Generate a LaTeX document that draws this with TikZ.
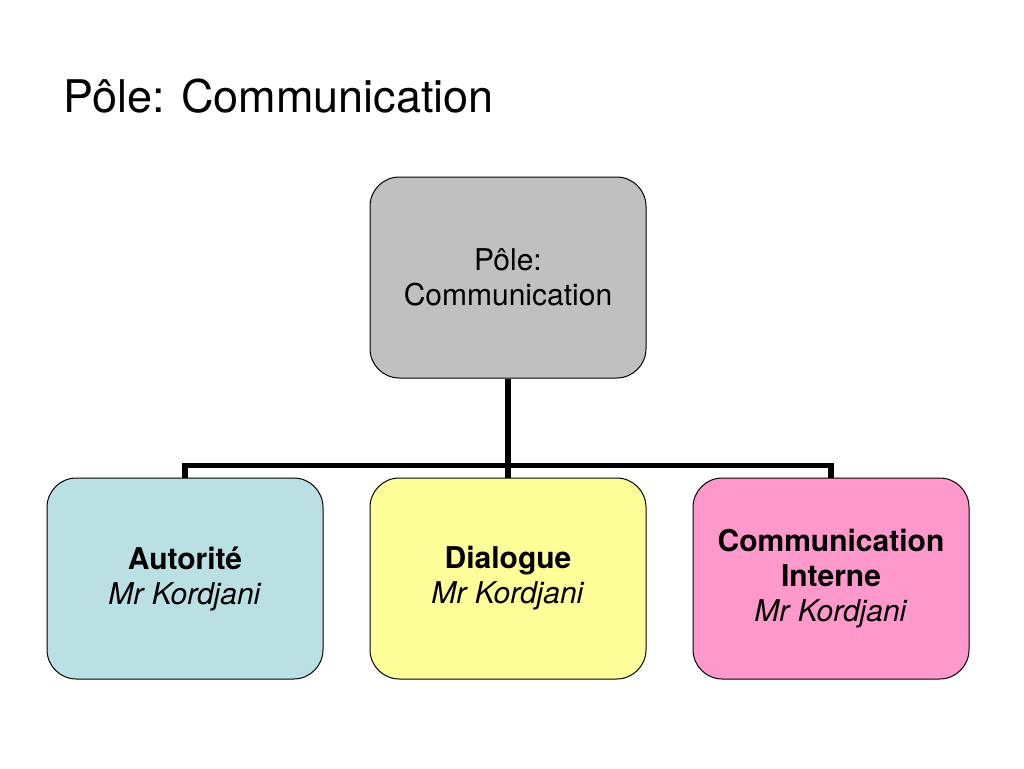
\documentclass[tikz,border=0pt]{standalone}
\usepackage{fontspec}
\setmainfont{TeX Gyre Heros}
\usetikzlibrary{positioning}
\definecolor{polegray}{RGB}{192,192,192}
\definecolor{autblue}{RGB}{187,224,227}
\definecolor{dialyellow}{RGB}{255,255,153}
\definecolor{compink}{RGB}{255,153,204}
\tikzset{  pole/.style={draw,line width=0.75pt,rounded corners=22pt,minimum width=207pt,minimum height=150.75pt,inner sep=0pt,align=center,font=\fontsize{22.5}{26.25}\selectfont} }
\tikzset{  tree/.style={line width=4.2pt,-} }

\begin{document}
\begin{tikzpicture}[x=0.75pt,y=-0.75pt]
   \useasboundingbox (0,0) rectangle (1024,768);
   \node[anchor=base west,font=\fontsize{33.75}{40}\selectfont,inner sep=0pt] (title) at (63,112) {Pôle: Communication};
   \node[pole,fill=polegray] (root) at (508,277.5) {Pôle:\\Communication};
   \node[pole,fill=dialyellow,below=74.25pt of root] (dial) {\textbf{Dialogue}\\\textit{Mr Kordjani}};
   \node[pole,fill=autblue,left=34.5pt of dial] (aut) {\textbf{Autorité}\\\textit{Mr Kordjani}};
   \node[pole,fill=compink,right=34.5pt of dial] (com) {\textbf{Communication}\\\textbf{Interne}\\\textit{Mr Kordjani}};
   \draw[tree] (root.south) -- ++(0,87) coordinate (hub);
   \draw[tree] (aut.north) |- (hub) -| (com.north);
   \draw[tree] (hub) -- (dial.north);
  \end{tikzpicture}
\end{document}
